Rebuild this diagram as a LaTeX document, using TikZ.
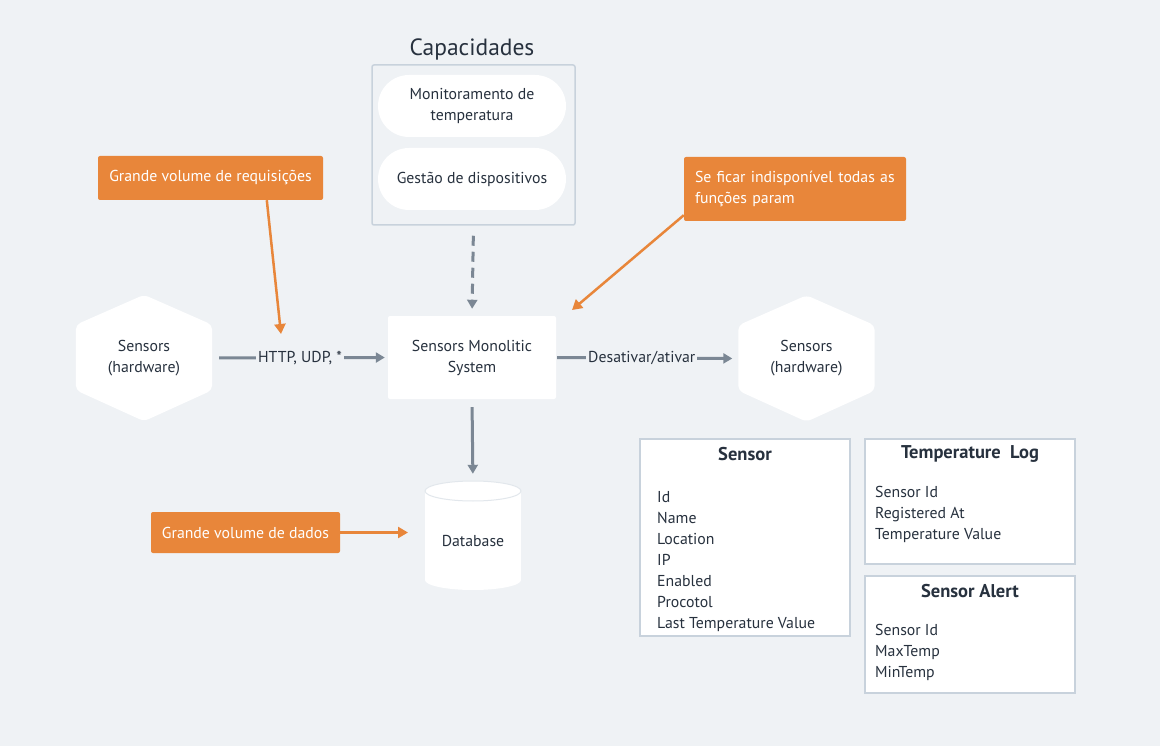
\documentclass[tikz,border=0pt]{standalone}
\usepackage{fontspec}
\setmainfont{PT Sans}
\usetikzlibrary{arrows.meta,calc,backgrounds}
\definecolor{bg}{HTML}{EFF2F5}
\definecolor{txt}{HTML}{27313E}
\definecolor{arr}{HTML}{7B8794}
\definecolor{org}{HTML}{E8863A}
\definecolor{bord}{HTML}{C8D2DC}
\definecolor{rim}{HTML}{E2E7EC}
\tikzset{
  base/.style={font=\fontsize{15.8}{21}\selectfont, text=txt},
  pill/.style={base, fill=white, rounded corners=31pt, minimum width=188pt, minimum height=62pt, align=center},
  mainbox/.style={base, fill=white, rounded corners=2pt, minimum width=168pt, minimum height=83pt, align=center},
  hexnode/.style={base, minimum width=136pt, minimum height=126pt, align=center, inner sep=0pt},
  note/.style={font=\fontsize{15.8}{21}\selectfont, text=white, fill=org, rounded corners=2pt},
  garrow/.style={draw=arr, line width=3pt, -{Triangle[length=9pt,width=10pt]}},
  oarrow/.style={draw=org, line width=2.5pt, -{Triangle[length=10pt,width=11pt]}},
  lbl/.style={base, fill=bg, inner sep=2pt},
  tbl/.style={draw=bord, line width=1.5pt, fill=white},
  tbltitle/.style={font=\fontsize{18.5}{22}\selectfont\bfseries, text=txt},
  tblitems/.style={base, align=left, anchor=west, inner sep=0pt},
}
\begin{document}
\begin{tikzpicture}[x=1pt,y=-1pt]
\useasboundingbox (0,0) rectangle (1160,746);
\begin{scope}[on background layer]
\fill[bg] (0,0) rectangle (1160,746);
\end{scope}

% Capacidades
\node[font=\fontsize{23.5}{26}\selectfont, text=txt] (captitle) at (472,49) {Capacidades};
\node[draw=bord, line width=1.5pt, rounded corners=2pt, minimum width=203pt, minimum height=160pt] (cap) at (473.5,145) {};
\node[pill] (p1) at (472,106) {\raisebox{-1.5pt}{\parbox{180pt}{\centering Monitoramento de\\temperatura}}};
\node[pill] (p2) at (472,179) {\raisebox{-1pt}{Gestão de dispositivos}};

% main system
\node[mainbox] (main) at (472,357.5) {\raisebox{-1.5pt}{\parbox{160pt}{\centering Sensors Monolitic\\System}}};

% hexagons
\node[hexnode] (hexL) at (144,358) {\raisebox{-1.5pt}{\parbox{120pt}{\centering Sensors\\(hardware)}}};
\node[hexnode] (hexR) at (806.5,358.5) {\raisebox{-1.5pt}{\parbox{120pt}{\centering Sensors\\(hardware)}}};
\begin{scope}[on background layer]
\foreach \h in {hexL,hexR}{
  \fill[white, rounded corners=5pt] (\h.north) -- ($(\h.north east)+(0,30)$) -- ($(\h.south east)+(0,-31)$)
     -- (\h.south) -- ($(\h.south west)+(0,-31)$) -- ($(\h.north west)+(0,30)$) -- cycle;
}
\end{scope}

% database
\node[base, minimum width=96pt, minimum height=109pt] (db) at (473,540.5) {Database};
\begin{scope}[on background layer]
\fill[white] (425,491) rectangle (521,580);
\fill[white] (473,580) ellipse [x radius=48, y radius=10];
\fill[white] (473,491) ellipse [x radius=48, y radius=10];
\draw[rim, line width=1pt] (473,491) ellipse [x radius=48, y radius=10];
\end{scope}

% connectors
\draw[garrow, dashed, dash pattern=on 10pt off 6pt, shorten <=10pt, shorten >=7pt] (cap.south) -- (main.north);
\draw[garrow, shorten <=7pt, shorten >=3pt] (hexL.east) -- node[lbl] (l1) {HTTP, UDP, *} (main.west);
\draw[garrow, shorten <=1pt, shorten >=6pt] (main.east) -- node[lbl, pos=0.47] (l2) {Desativar/ativar} (hexR.west);
\draw[garrow, shorten <=8pt, shorten >=12pt] (main.south) -- (db.north);

% notes
\node[note, minimum width=225pt, minimum height=44pt] (o1) at (210.5,178) {Grande volume de requisições};
\node[note, minimum width=222pt, minimum height=64pt, align=left, text width=200pt] (o2) at (795,189) {Se ficar indisponível todas as\\funções param};
\node[note, minimum width=189pt, minimum height=41pt] (o3) at (245.5,532.5) {Grande volume de dados};
\coordinate (t1) at (281,334);
\coordinate (t2) at (572,310);
\coordinate (t3) at (408,532.5);
\draw[oarrow] ($(o1.south west)+(169,0)$) -- (t1);
\draw[oarrow] ($(o2.south west)+(0,-6)$) -- (t2);
\draw[oarrow] (o3.east) -- (t3);

% tables
\node[tbl, minimum width=210pt, minimum height=197pt] (ts) at (745,537.5) {};
\node[tbltitle] (tst) at (745,454) {Sensor};
\node[tblitems] (tsi) at (657,561.5) {Id\\Name\\Location\\IP\\Enabled\\Procotol\\Last Temperature Value};

\node[tbl, minimum width=210pt, minimum height=125pt] (tl) at (970,501.5) {};
\node[tbltitle] (tlt) at (970,454) {Temperature\ \ Log};
\node[tblitems] (tli) at (875,514) {Sensor Id\\Registered At\\Temperature Value};

\node[tbl, minimum width=210pt, minimum height=117pt] (ta) at (970,634.5) {};
\node[tbltitle] (tat) at (970,591) {Sensor Alert};
\node[tblitems] (tai) at (875,652) {Sensor Id\\MaxTemp\\MinTemp};
\end{tikzpicture}
\end{document}
